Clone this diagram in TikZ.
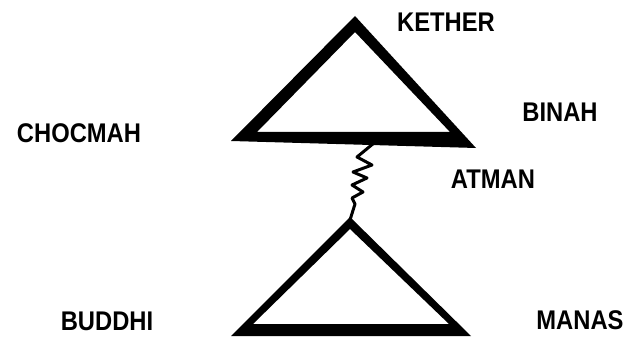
\documentclass[tikz,border=0pt]{standalone}
\usepackage{fontspec}
\setmainfont{Liberation Sans}[FakeStretch=0.88]
\begin{document}
\begin{tikzpicture}[x=1pt,y=-1pt,
  lbl/.style={font=\fontsize{27}{27}\selectfont\bfseries, inner sep=0pt, anchor=center},
  tri/.style={fill=black, even odd rule},
  zig/.style={draw=black, line width=3pt, line join=round, line cap=round}]
\useasboundingbox (0,0) rectangle (630,337);
% top triangle
\fill[tri] (355,16) -- (476,148) -- (231,141) -- cycle
           (355,32) -- (450,132) -- (257,132) -- cycle;
% bottom triangle
\fill[tri] (350,217) -- (471,336) -- (231,336) -- cycle
           (350,229) -- (449,324) -- (253,324) -- cycle;
% zigzag
\coordinate (zt) at (374,143);
\coordinate (zb) at (350,220);
\draw[zig] (zt) -- (357,157) -- (372,165) -- (353,172) -- (367,178) -- (352,185) -- (363,192) -- (352,198) -- (355,204) -- (zb);
% labels
\node[lbl] (kether) at (446,22) {KETHER};
\node[lbl] (chocmah) at (79,133) {CHOCMAH};
\node[lbl] (binah) at (560,112) {BINAH};
\node[lbl] (atman) at (493,179) {ATMAN};
\node[lbl] (buddhi) at (107,321) {BUDDHI};
\node[lbl] (manas) at (580,320) {MANAS};
\end{tikzpicture}
\end{document}
